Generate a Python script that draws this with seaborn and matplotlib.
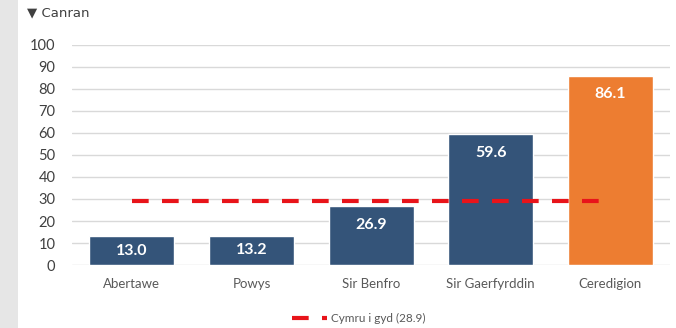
import matplotlib.pyplot as plt
import matplotlib.patches as mpatches
import numpy as np
import pandas as pd
import seaborn as sns

# data
siroedd = ["Abertawe", "Powys", "Sir Benfro", "Sir Gaerfyrddin", "Ceredigion"]
canran = [13.0, 13.2, 26.9, 59.6, 86.1]
lliwiau = ["#345479", "#345479", "#345479", "#345479", "#ed7d31"]
cymru = 28.9
cymru_label = f"Cymru i gyd ({cymru})"
y_ticks = list(range(0, 101, 10))

df = pd.DataFrame({"sir": siroedd, "canran": canran})

sns.set_theme(style="white")
plt.rcParams["font.family"] = ["Lato", "DejaVu Sans"]

fig = plt.figure(figsize=(6.76, 3.28), dpi=100)
fig.patch.set_facecolor("white")

# grey strip on the left edge
fig.patches.append(mpatches.Rectangle((0, 0), 0.027, 1, transform=fig.transFigure,
                                      facecolor="#e6e6e6", edgecolor="none", zorder=0))

ax = fig.add_axes([0.1065, 0.192, 0.885, 0.671])
ax.set_facecolor("none")

sns.barplot(data=df, x="sir", y="canran", hue="sir", palette=lliwiau,
            legend=False, width=0.71, saturation=1, ax=ax, zorder=3)

# value labels inside the bars
for i, v in enumerate(canran):
    off = min(v / 2, 8.5)
    ax.text(i, v - off, f"{v:.1f}", ha="center", va="center", color="white",
            fontsize=11.5, fontweight="bold", zorder=5)

# Wales average line
ax.plot([0, 3.95], [cymru, cymru], color="#e8141a", lw=3, dashes=(4, 3.2),
        zorder=4, label=cymru_label)

ax.set_xlim(-0.5, 4.5)
ax.set_ylim(0, 100)
ax.set_yticks(y_ticks)
ax.set_yticklabels([str(t) for t in y_ticks], fontsize=10.5, color="#404040")
ax.tick_params(axis="x", labelsize=9.5, labelcolor="#595959", length=0, pad=9)
ax.tick_params(axis="y", length=0, pad=12)
ax.set_xlabel("")
ax.set_ylabel("")
ax.grid(axis="y", color="#d9d9d9", lw=1, zorder=0)
for s in ax.spines.values():
    s.set_visible(False)

fig.text(0.04, 0.962, "\u25bc Canran", fontsize=9.5, color="#404040",
         ha="left", va="center", family=["DejaVu Sans"])

leg = fig.legend(loc="center", bbox_to_anchor=(0.53, 0.03), frameon=False,
                 fontsize=8.5, handlelength=3, handletextpad=0.3)
for t in leg.get_texts():
    t.set_color("#595959")

fig.savefig("out.png", dpi=100)
